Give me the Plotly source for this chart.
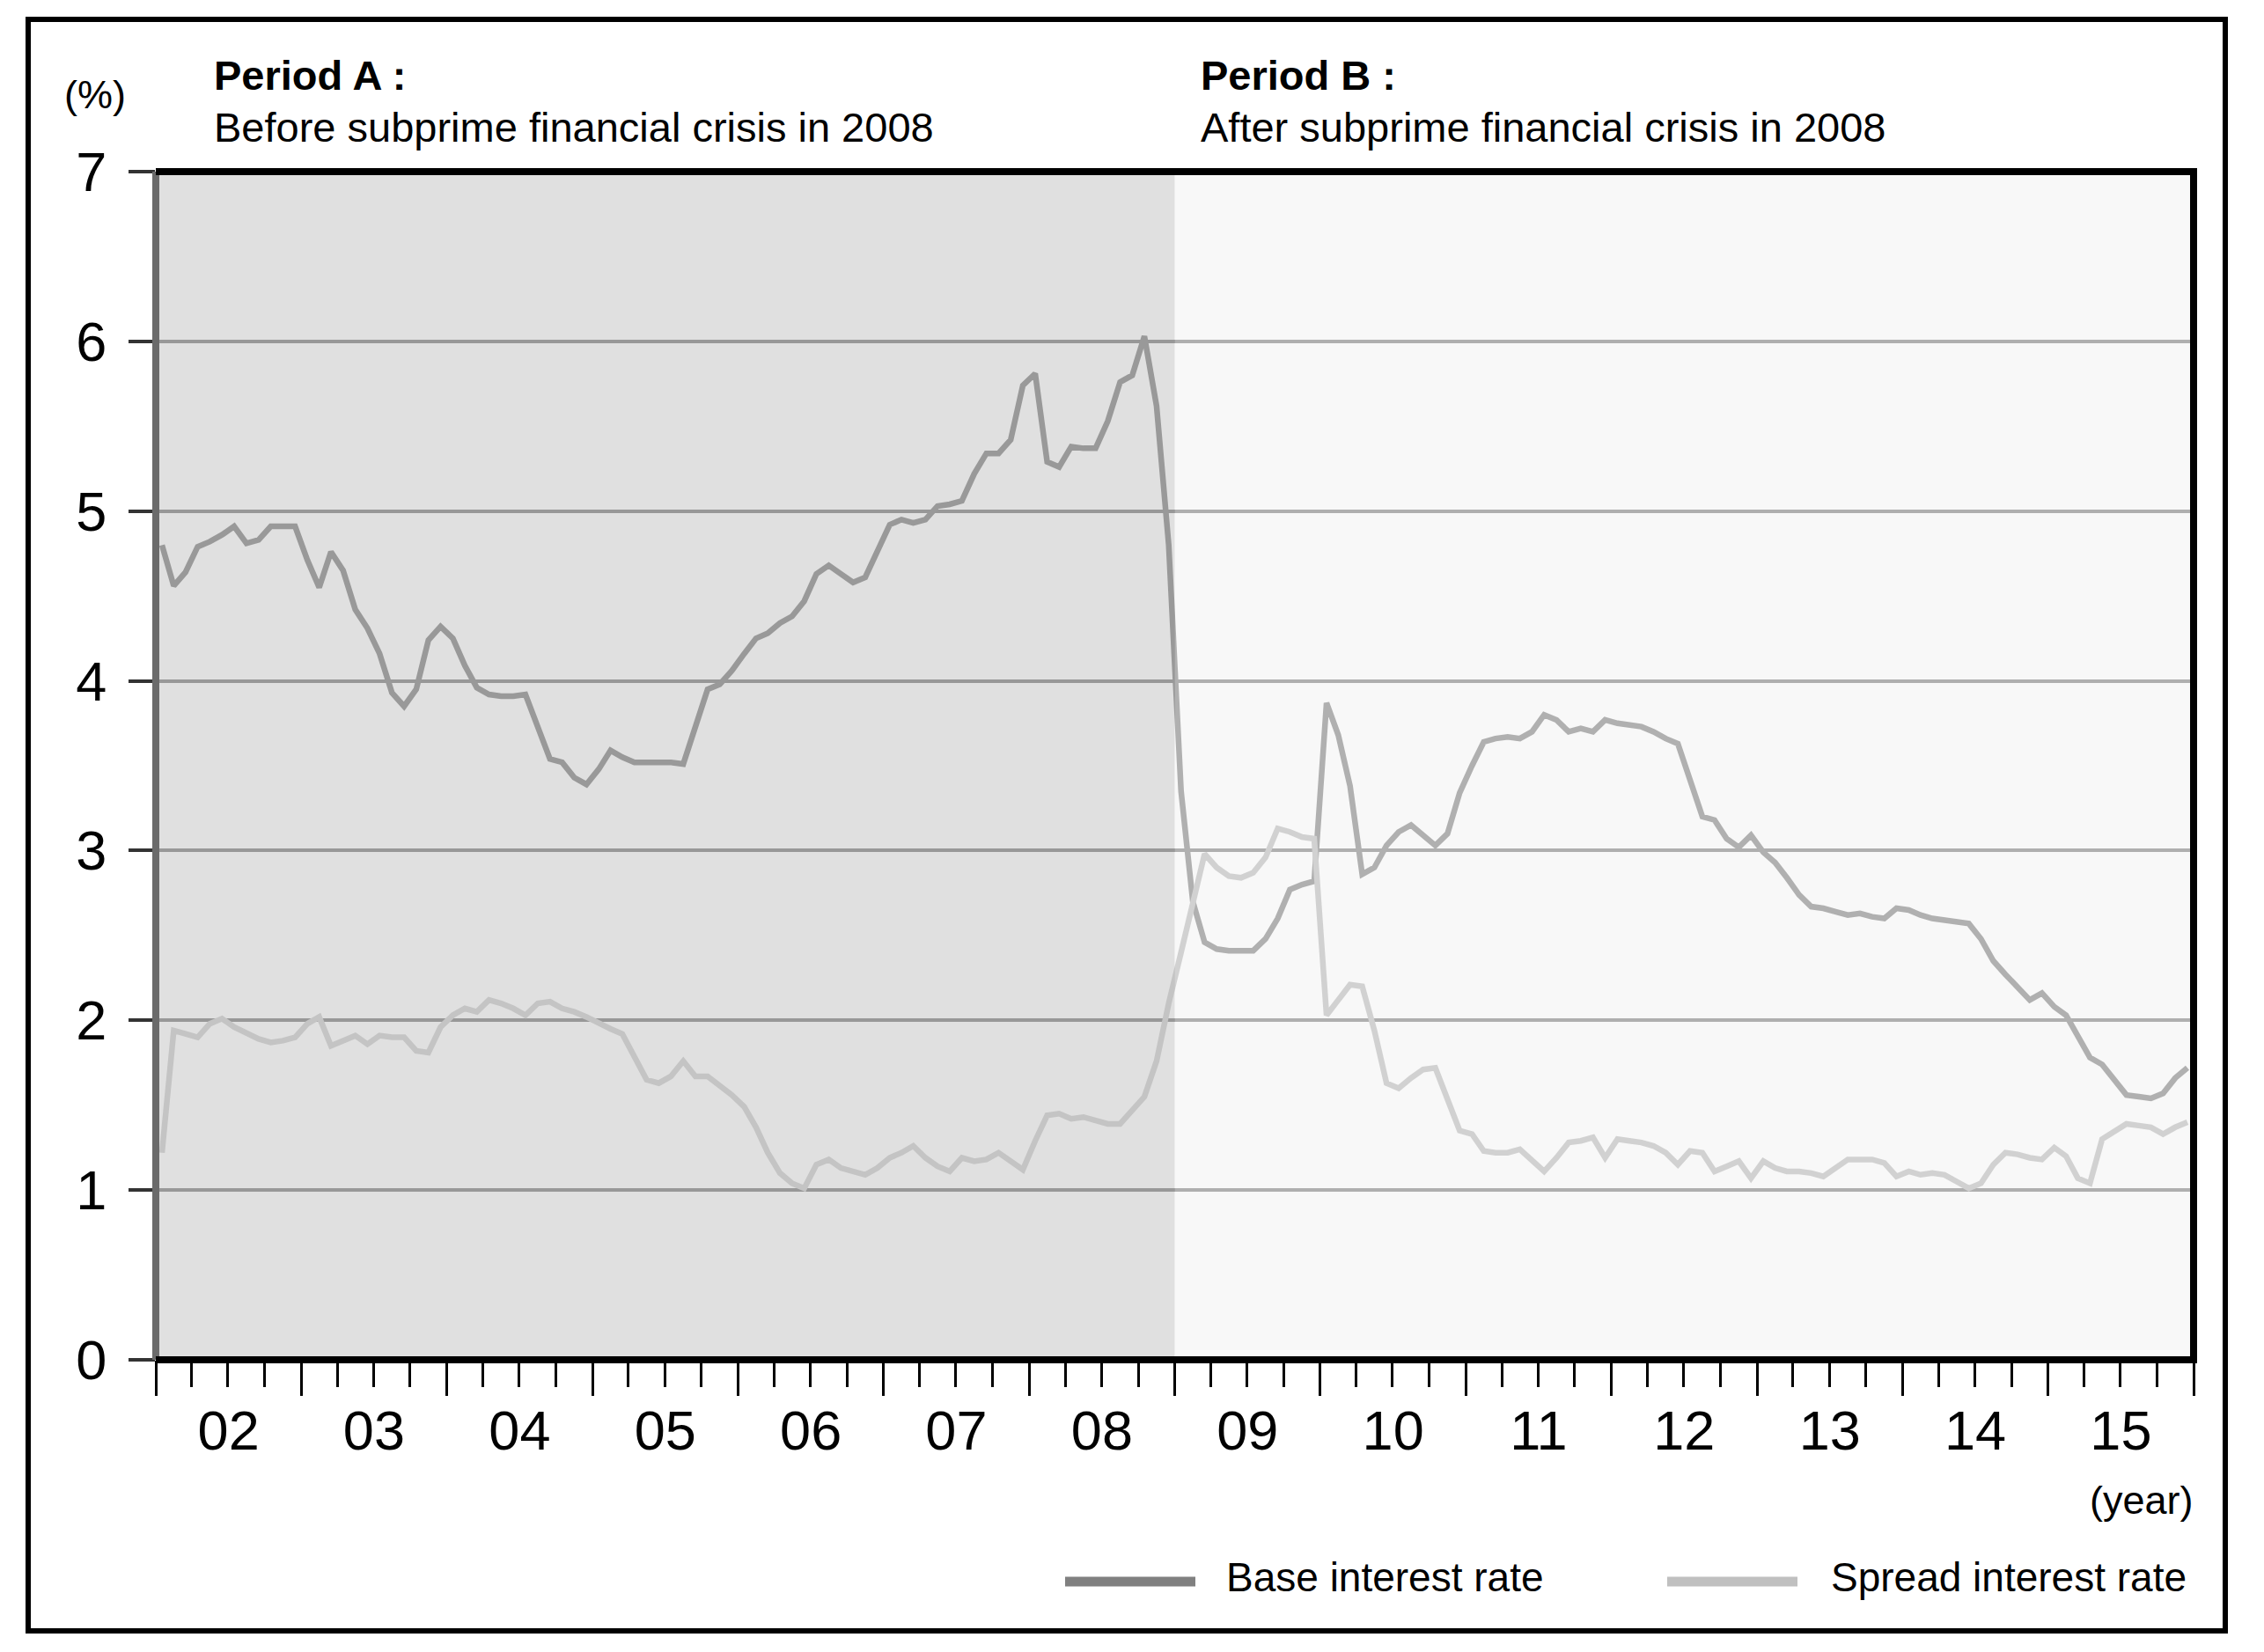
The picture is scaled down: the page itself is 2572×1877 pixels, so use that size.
import pandas as pd
import plotly.graph_objects as go

# ---------------- data (monthly, Jan 2002 - Dec 2015) ----------------
START_MONTH = "2002-01-01"
N_MONTHS = 168

base_rate = [
    4.80, 4.56, 4.64, 4.79, 4.82, 4.86, 4.91, 4.81, 4.83, 4.91, 4.91, 4.91,   # 2002
    4.71, 4.55, 4.76, 4.65, 4.42, 4.31, 4.16, 3.93, 3.85, 3.95, 4.24, 4.32,   # 2003
    4.25, 4.09, 3.96, 3.92, 3.91, 3.91, 3.92, 3.72, 3.54, 3.52, 3.43, 3.39,   # 2004
    3.48, 3.59, 3.55, 3.52, 3.52, 3.52, 3.52, 3.51, 3.72, 3.95, 3.98, 4.06,   # 2005
    4.16, 4.25, 4.28, 4.34, 4.38, 4.47, 4.63, 4.68, 4.63, 4.58, 4.61, 4.77,   # 2006
    4.92, 4.95, 4.93, 4.95, 5.03, 5.04, 5.06, 5.22, 5.34, 5.34, 5.42, 5.74,   # 2007
    5.81, 5.29, 5.26, 5.38, 5.37, 5.37, 5.53, 5.76, 5.80, 6.03, 5.62, 4.80,   # 2008
    3.35, 2.70, 2.46, 2.42, 2.41, 2.41, 2.41, 2.48, 2.60, 2.77, 2.80, 2.82,   # 2009
    3.87, 3.68, 3.38, 2.86, 2.90, 3.03, 3.11, 3.15, 3.09, 3.03, 3.10, 3.34,   # 2010
    3.50, 3.64, 3.66, 3.67, 3.66, 3.70, 3.80, 3.77, 3.70, 3.72, 3.70, 3.77,   # 2011
    3.75, 3.74, 3.73, 3.70, 3.66, 3.63, 3.42, 3.20, 3.18, 3.07, 3.02, 3.09,   # 2012
    2.99, 2.93, 2.84, 2.74, 2.67, 2.66, 2.64, 2.62, 2.63, 2.61, 2.60, 2.66,   # 2013
    2.65, 2.62, 2.60, 2.59, 2.58, 2.57, 2.48, 2.35, 2.27, 2.19, 2.12, 2.16,   # 2014
    2.08, 2.03, 1.91, 1.78, 1.74, 1.65, 1.56, 1.55, 1.54, 1.57, 1.66, 1.72,   # 2015
]

spread_rate = [
    1.22, 1.94, 1.92, 1.90, 1.98, 2.01, 1.96, 1.92, 1.89, 1.87, 1.88, 1.90,   # 2002
    1.98, 2.02, 1.85, 1.88, 1.91, 1.86, 1.91, 1.90, 1.90, 1.82, 1.81, 1.96,   # 2003
    2.03, 2.07, 2.05, 2.12, 2.10, 2.07, 2.03, 2.10, 2.11, 2.07, 2.05, 2.02,   # 2004
    1.98, 1.95, 1.92, 1.78, 1.65, 1.63, 1.67, 1.76, 1.67, 1.67, 1.62, 1.56,   # 2005
    1.49, 1.37, 1.22, 1.10, 1.04, 1.01, 1.15, 1.18, 1.13, 1.11, 1.09, 1.13,   # 2006
    1.19, 1.22, 1.26, 1.19, 1.14, 1.11, 1.19, 1.17, 1.18, 1.22, 1.17, 1.12,   # 2007
    1.29, 1.44, 1.45, 1.42, 1.43, 1.41, 1.39, 1.39, 1.47, 1.55, 1.76, 2.10,   # 2008
    2.40, 2.70, 2.98, 2.90, 2.85, 2.84, 2.87, 2.96, 3.13, 3.11, 3.08, 3.07,   # 2009
    2.03, 2.12, 2.21, 2.20, 1.94, 1.63, 1.60, 1.66, 1.71, 1.72, 1.53, 1.35,   # 2010
    1.33, 1.23, 1.22, 1.22, 1.24, 1.17, 1.11, 1.19, 1.28, 1.29, 1.31, 1.19,   # 2011
    1.30, 1.29, 1.28, 1.26, 1.22, 1.15, 1.23, 1.22, 1.11, 1.14, 1.17, 1.07,   # 2012
    1.17, 1.13, 1.11, 1.11, 1.10, 1.08, 1.13, 1.18, 1.18, 1.18, 1.16, 1.08,   # 2013
    1.11, 1.09, 1.10, 1.09, 1.05, 1.01, 1.04, 1.15, 1.22, 1.21, 1.19, 1.18,   # 2014
    1.25, 1.20, 1.07, 1.04, 1.30, 1.35, 1.39, 1.38, 1.37, 1.33, 1.37, 1.40,   # 2015
]

series_names = ["Base interest rate", "Spread interest rate"]
period_bounds = ["2002-01-01", "2009-01-01", "2016-01-01"]
period_titles = ["Period A :", "Period B :"]
period_texts = ["Before subprime financial crisis in 2008",
                "After subprime financial crisis in 2008"]
y_tick_values = [0, 1, 2, 3, 4, 5, 6, 7]

months = pd.date_range(START_MONTH, periods=N_MONTHS, freq="MS")

# ---------------- layout geometry (page pixels) ----------------
BODY = 8                       # default body margin of the html page
FIG_W, FIG_H = 2572 - 2 * BODY, 1877 - 2 * BODY
PLOT_L, PLOT_T, PLOT_R, PLOT_B = 177, 195, 2492, 1545   # page px
ML, MT = PLOT_L - BODY, PLOT_T - BODY
PW, PH = PLOT_R - PLOT_L, PLOT_B - PLOT_T
MR, MB = FIG_W - ML - PW, FIG_H - MT - PH

def px(x):
    return (x - PLOT_L) / PW

def py(y):
    return (PLOT_B - y) / PH

FONT = "Liberation Sans, Arial, Helvetica, sans-serif"
BASE_COLOR = "#999999"
SPREAD_COLOR = "#c4c4c4"

fig = go.Figure()
fig.add_trace(go.Scatter(x=months, y=base_rate, name=series_names[0], mode="lines",
                         xperiod="M1", xperiodalignment="middle",
                         line=dict(color=BASE_COLOR, width=6.5), showlegend=False))
fig.add_trace(go.Scatter(x=months, y=spread_rate, name=series_names[1], mode="lines",
                         xperiod="M1", xperiodalignment="middle",
                         line=dict(color=SPREAD_COLOR, width=6.5), showlegend=False))

shapes = []
# period backgrounds
shapes.append(dict(type="rect", xref="x", yref="y", x0=period_bounds[0], x1=period_bounds[1],
                   y0=0, y1=7, fillcolor="#e0e0e0", line=dict(width=0), layer="below"))
shapes.append(dict(type="rect", xref="x", yref="y", x0=period_bounds[1], x1=period_bounds[2],
                   y0=0, y1=7, fillcolor="#f6f6f6", line=dict(width=0), layer="below"))
# light veil over period B (lightens grid and lines there)
shapes.append(dict(type="rect", xref="x", yref="y", x0=period_bounds[1], x1=period_bounds[2],
                   y0=0, y1=7, fillcolor="rgba(255,255,255,0.23)", line=dict(width=0), layer="above"))
# plot frame
shapes.append(dict(type="line", xref="paper", yref="paper", x0=0, x1=0, y0=0, y1=1,
                   line=dict(color="#6b6b6b", width=8), layer="above"))
shapes.append(dict(type="line", xref="paper", yref="paper", x0=0, x1=1.0017, y0=1, y1=1,
                   line=dict(color="black", width=8), layer="above"))
shapes.append(dict(type="line", xref="paper", yref="paper", x0=1, x1=1, y0=-0.003, y1=1.003,
                   line=dict(color="black", width=8), layer="above"))
shapes.append(dict(type="line", xref="paper", yref="paper", x0=0, x1=1.0017, y0=0, y1=0,
                   line=dict(color="black", width=8), layer="above"))
# outer border
shapes.append(dict(type="rect", xref="paper", yref="paper", x0=px(32), x1=px(2528),
                   y0=py(1853), y1=py(22), line=dict(color="black", width=6),
                   fillcolor="rgba(0,0,0,0)", layer="above"))
# legend swatches
shapes.append(dict(type="line", xref="paper", yref="paper", x0=px(1210), x1=px(1358),
                   y0=py(1797), y1=py(1797), line=dict(color="#808080", width=11)))
shapes.append(dict(type="line", xref="paper", yref="paper", x0=px(1894), x1=px(2042),
                   y0=py(1797), y1=py(1797), line=dict(color="#c0c0c0", width=11)))

annotations = []
def txt(text, x, y, xanchor="left", size=47):
    annotations.append(dict(text=text, xref="paper", yref="paper", x=px(x), y=py(y),
                            xanchor=xanchor, yanchor="middle", showarrow=False,
                            font=dict(family=FONT, size=size, color="black")))

txt("(%)", 108, 108, xanchor="center", size=45)
txt("<b>" + period_titles[0] + "</b>", 241, 86)
txt(period_texts[0], 241, 144)
txt("<b>" + period_titles[1] + "</b>", 1362, 86)
txt(period_texts[1], 1362, 144)
txt("(year)", 2494, 1704, xanchor="right", size=45)
txt(series_names[0], 1391, 1792, size=46)
txt(series_names[1], 2078, 1792, size=46)

fig.update_layout(
    width=FIG_W, height=FIG_H,
    margin=dict(l=ML, r=MR, t=MT, b=MB, pad=0),
    paper_bgcolor="white", plot_bgcolor="white",
    font=dict(family=FONT, color="black"),
    shapes=shapes, annotations=annotations, showlegend=False,
)
fig.update_xaxes(
    type="date", range=[period_bounds[0], period_bounds[2]],
    tick0=period_bounds[0], dtick="M12", tickformat="%y", ticklabelmode="period",
    ticks="outside", ticklen=40, tickwidth=3, tickcolor="black", ticklabelstandoff=-15,
    minor=dict(dtick="M3", ticks="outside", ticklen=30, tickwidth=3, tickcolor="black"),
    tickfont=dict(family=FONT, size=63, color="black"),
    showgrid=False, showline=False, zeroline=False, fixedrange=True,
)
fig.update_yaxes(
    range=[0, 7], tickvals=y_tick_values, ticks="outside", ticklen=30, tickwidth=4,
    tickcolor="#333333", tickfont=dict(family=FONT, size=63, color="black"),
    ticklabelstandoff=12,
    showgrid=True, gridcolor="#989898", gridwidth=4, zeroline=False, showline=False,
    fixedrange=True,
)

fig.write_html("out.html")
